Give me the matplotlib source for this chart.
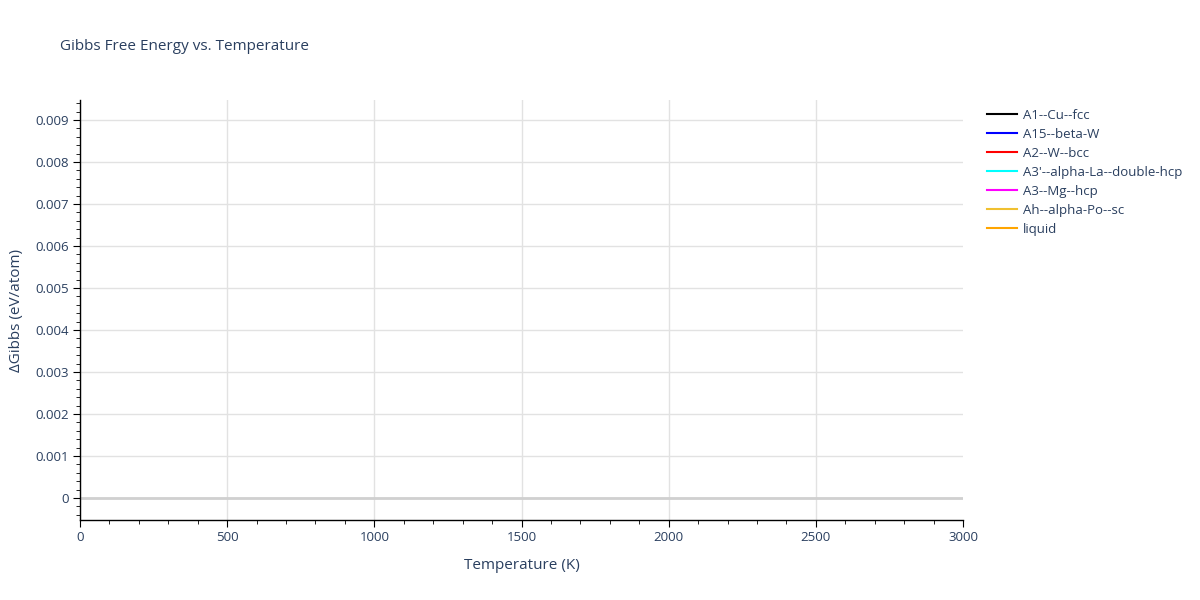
import matplotlib
matplotlib.use("Agg")
import matplotlib.pyplot as plt
from matplotlib.ticker import MultipleLocator, FuncFormatter

phases = ["A1--Cu--fcc", "A15--beta-W", "A2--W--bcc", "A3'--alpha-La--double-hcp",
          "A3--Mg--hcp", "Ah--alpha-Po--sc", "liquid"]
colors = ["black", "blue", "red", "cyan", "magenta", "#f0c030", "orange"]
temperature = []          # no visible data in the reference
delta_gibbs = [[] for _ in phases]

x_ticks = [0, 500, 1000, 1500, 2000, 2500, 3000]
y_ticks = [0, 0.001, 0.002, 0.003, 0.004, 0.005, 0.006, 0.007, 0.008, 0.009]

txt = "#2a3f5f"
plt.rcParams['font.family'] = ['Open Sans', 'DejaVu Sans']

fig = plt.figure(figsize=(12, 6), dpi=100)
ax = fig.add_axes([80/1200, 80/600, 883/1200, 420/600])

for name, c, ys in zip(phases, colors, delta_gibbs):
    ax.plot(temperature, ys, color=c, lw=1.5, label=name)

ax.set_xlim(0, 3000)
ax.set_ylim(-0.000524, 0.009476)
ax.set_xticks(x_ticks)
ax.set_yticks(y_ticks)
ax.xaxis.set_minor_locator(MultipleLocator(100))
ax.yaxis.set_minor_locator(MultipleLocator(0.0002))
ax.yaxis.set_major_formatter(FuncFormatter(lambda v, p: "0" if abs(v) < 1e-12 else f"{v:.3f}"))

ax.grid(True, which="major", color="#e2e2e2", lw=1)
ax.xaxis.get_gridlines()[-1].set_visible(False)
ax.axhline(0, color="#d0d0d0", lw=2, zorder=1)
ax.set_axisbelow(True)
for s in ["top", "right"]:
    ax.spines[s].set_visible(False)
for s in ["left", "bottom"]:
    ax.spines[s].set_color("black")
    ax.spines[s].set_linewidth(1)

ax.tick_params(which="major", direction="out", length=5, color="black", labelsize=9.5, labelcolor=txt, pad=3)
ax.tick_params(which="minor", direction="out", length=3, color="black")

ax.set_xlabel("Temperature (K)", fontsize=11, color=txt, labelpad=10)
ax.set_ylabel("ΔGibbs (eV/atom)", fontsize=11, color=txt, labelpad=8)
fig.text(60/1200, 1 - 46/600, "Gibbs Free Energy vs. Temperature", fontsize=11, color=txt, va="center")

leg = ax.legend(loc="upper left", bbox_to_anchor=((982 - 80)/883, 1 - 4/420), frameon=False,
                fontsize=9.5, labelcolor=txt, handlelength=2.3, handletextpad=0.45,
                labelspacing=0.46, borderaxespad=0, borderpad=0.35)

fig.savefig("out.png", dpi=100, facecolor="white")
